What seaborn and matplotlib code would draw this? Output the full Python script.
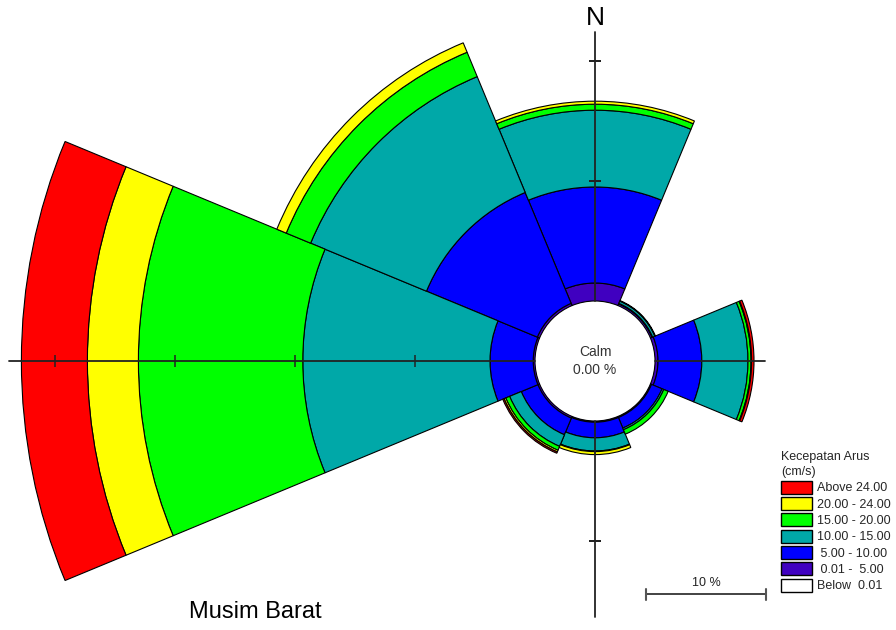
import numpy as np
import matplotlib
matplotlib.use("Agg")
import matplotlib.pyplot as plt
from matplotlib.patches import Patch
from matplotlib.lines import Line2D
import seaborn as sns

# current rose data, frequency in % per direction
directions = ["N", "NE", "E", "SE", "S", "SW", "W", "NW"]
speed_labels = ["Below  0.01", " 0.01 -  5.00", " 5.00 - 10.00", "10.00 - 15.00",
                "15.00 - 20.00", "20.00 - 24.00", "Above 24.00"]
speed_colors = ["#FFFFFF", "#4000C0", "#0000FF", "#00A8A8", "#00FF00", "#FFFF00", "#FF0000"]

below_001 = [0, 0, 0, 0, 0, 0, 0, 0]
spd_001_5 = [1.5, 0.15, 0.25, 0.1, 0.1, 0.15, 0.15, 0.2]
spd_5_10 = [8.0, 0.05, 3.65, 0.95, 1.3, 1.5, 3.6, 10.0]
spd_10_15 = [6.4, 0.2, 3.85, 0.15, 1.1, 1.05, 15.6, 10.45]
spd_15_20 = [0.5, 0.05, 0.25, 0.4, 0.05, 0.35, 13.7, 2.2]
spd_20_24 = [0.25, 0.0, 0.05, 0.0, 0.25, 0.15, 4.25, 0.85]
spd_above_24 = [0.0, 0.0, 0.2, 0.0, 0.0, 0.12, 5.5, 0.0]
calm_pct = 0.00

speed_series = [below_001, spd_001_5, spd_5_10, spd_10_15, spd_15_20, spd_20_24, spd_above_24]

sns.set_theme(style="white")
plt.rcParams["font.family"] = ["Liberation Sans", "DejaVu Sans"]

W, H = 896, 630
fig = plt.figure(figsize=(W / 100, H / 100), dpi=100)

# layout in pixels: rose centre, calm radius, px per percent
cx, cy = 595, 361
px_per_pct = 12.0
r0 = 5.0            # calm circle radius in percent units (60 px)
rmax = 50.0
R = rmax * px_per_pct
ax = fig.add_axes([(cx - R) / W, (H - cy - R) / H, 2 * R / W, 2 * R / H],
                  projection="polar")
ax.set_theta_zero_location("N")
ax.set_theta_direction(-1)
ax.set_ylim(0, rmax)
ax.axis("off")

theta = np.deg2rad(np.arange(len(directions)) * 45.0)
width = np.deg2rad(45.0)

bottom = np.full(len(directions), r0)
palette = sns.color_palette(speed_colors)
for vals, col in zip(speed_series, palette):
    vals = np.array(vals, dtype=float)
    keep = vals > 0
    if keep.any():
        ax.bar(theta[keep], vals[keep], width=width, bottom=bottom[keep],
               color=col, edgecolor="black", linewidth=0.8, align="center", zorder=2)
    bottom = bottom + vals

# compass axis lines with 10 % ticks
axis_extent = {0.0: 22.4, 90.0: 9.2, 180.0: 16.3, 270.0: 43.8}
for ang, ext in axis_extent.items():
    t = np.deg2rad(ang)
    ax.plot([t, t], [r0, r0 + ext], color="#222222", lw=1.3, zorder=3)
    ticks = np.arange(10, ext + 0.01, 10)
    mk = "_" if ang in (0.0, 180.0) else "|"
    ax.plot(np.full(len(ticks), t), r0 + ticks, ls="none", marker=mk, ms=8,
            mew=1.1, color="#222222", zorder=3)

ax.text(0, 0, f"Calm\n{calm_pct:.2f} %", ha="center", va="center",
        fontsize=10, color="#333333", linespacing=1.3, zorder=4)

fig.text(cx / W, 1 - 18 / H, "N", ha="center", va="center", fontsize=19, color="black")
fig.text(255 / W, 1 - 612 / H, "Musim Barat", ha="center", va="center",
         fontsize=17, color="black")

# scale bar (10 %)
sb_x0 = 646
sb_x1 = sb_x0 + 10 * px_per_pct
sb_y = 1 - 594 / H
fig.add_artist(Line2D([sb_x0 / W, sb_x1 / W], [sb_y, sb_y], transform=fig.transFigure,
                      color="#222222", lw=1.2))
for xx in (sb_x0, sb_x1):
    fig.add_artist(Line2D([xx / W, xx / W], [sb_y + 5 / H, sb_y - 6 / H],
                          transform=fig.transFigure, color="#555555", lw=1.5))
fig.text((sb_x0 + sb_x1) / 2 / W, 1 - 583 / H, "10 %", ha="center", va="center",
         fontsize=9, color="#222222")

handles = [Patch(facecolor=c, edgecolor="black", linewidth=1.0) for c in speed_colors[::-1]]
leg = fig.legend(handles, speed_labels[::-1], loc="upper left",
                 bbox_to_anchor=(781 / W, 1 - 451 / H), frameon=False,
                 title="Kecepatan Arus\n(cm/s)", alignment="left",
                 fontsize=9, title_fontsize=9, handlelength=2.5, handleheight=1.25,
                 handletextpad=0.4, labelspacing=0.2, borderpad=0, borderaxespad=0)
leg.get_title().set_linespacing(1.35)

fig.savefig("out.png", dpi=100)
